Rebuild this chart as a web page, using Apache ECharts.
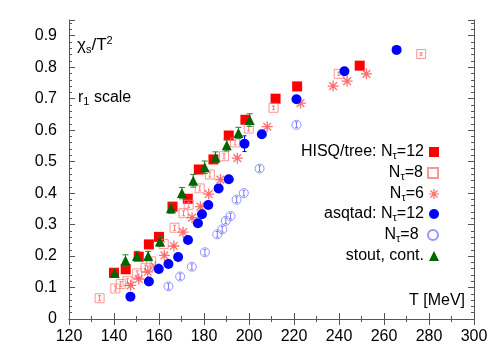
<!DOCTYPE html>
<html>
<head>
<meta charset="utf-8">
<script src="https://cdn.jsdelivr.net/npm/echarts@6/dist/echarts.min.js"></script>
<style>
html,body{margin:0;padding:0;background:#fff;}
#chart{width:504px;height:353px;}
</style>
</head>
<body>
<div id="chart"></div>
<script>
// ---- data ----
const xTicks = [120, 140, 160, 180, 200, 220, 240, 260, 280, 300];
const yTicks = [0, 0.1, 0.2, 0.3, 0.4, 0.5, 0.6, 0.7, 0.8, 0.9];

const hisq12T = [140, 145.2, 151, 155.5, 160, 166, 172.8, 177.7, 184.2, 191, 198.4, 211.8, 221.4, 249.2];
const hisq12V = [0.147, 0.158, 0.198, 0.237, 0.261, 0.357, 0.382, 0.475, 0.507, 0.583, 0.633, 0.700, 0.739, 0.805];

const hisq8T = [133.6, 140.6, 143, 146, 150.3, 154, 156.5, 162.1, 166.9, 170.9, 173.2, 178.1, 182.6, 188.9, 193.8, 199.9, 210.9, 239.9, 276.5];
const hisq8V = [0.066, 0.097, 0.111, 0.120, 0.145, 0.163, 0.183, 0.238, 0.290, 0.336, 0.363, 0.415, 0.459, 0.517, 0.561, 0.605, 0.671, 0.779, 0.842];
const hisq8E = [0.008, 0.008, 0.008, 0.008, 0.008, 0.008, 0.008, 0.008, 0.008, 0.008, 0.008, 0.008, 0.008, 0.008, 0.008, 0.008, 0.006, 0.005, 0.004];

const hisq6T = [147.4, 151, 155, 158.4, 162.4, 166.6, 170.7, 174.7, 178.4, 182.1, 187.3, 194.8, 208.1, 222.9, 237.4, 243.6, 252.2];
const hisq6V = [0.107, 0.127, 0.150, 0.165, 0.202, 0.232, 0.276, 0.322, 0.357, 0.397, 0.443, 0.511, 0.611, 0.686, 0.740, 0.756, 0.779];

const asq12T = [147.3, 155.5, 159.9, 164.2, 168.5, 172.9, 177.3, 179.1, 181.9, 186.5, 191, 198, 205.7, 221.1, 242.4, 265.6];
const asq12V = [0.071, 0.119, 0.159, 0.175, 0.197, 0.251, 0.304, 0.333, 0.362, 0.415, 0.444, 0.557, 0.587, 0.698, 0.787, 0.855];
const asq12E = [0.005, 0.006, 0.012, 0.006, 0.006, 0.006, 0.006, 0.006, 0.006, 0.006, 0.006, 0.025, 0.006, 0.006, 0.006, 0.004];

const asq8T = [164.2, 169.4, 174.6, 180.4, 185.9, 188.1, 189.7, 191.8, 194.5, 197.7, 204.7, 221.1];
const asq8V = [0.104, 0.135, 0.166, 0.212, 0.269, 0.285, 0.312, 0.327, 0.379, 0.400, 0.478, 0.617];
const asq8E = [0.009, 0.009, 0.009, 0.009, 0.009, 0.009, 0.009, 0.009, 0.009, 0.009, 0.009, 0.009];

const stoutT = [140.3, 145.1, 150.2, 155.2, 160.4, 165.3, 170.2, 175.2, 180.3, 185.1, 190.1, 195.3, 200.3];
const stoutV = [0.146, 0.186, 0.200, 0.200, 0.246, 0.352, 0.400, 0.439, 0.482, 0.513, 0.552, 0.591, 0.632];
const stoutE = [0.012, 0.018, 0.015, 0.015, 0.015, 0.016, 0.018, 0.020, 0.020, 0.018, 0.018, 0.018, 0.020];

const names = ['HISQ/tree: N{sub|τ}=12', 'N{sub|τ}=8', 'N{sub|τ}=6', 'asqtad: N{sub|τ}=12', 'N{sub|τ}=8 ', 'stout, cont.'];

// ---- build ----
const pts = (t, v) => t.map((x, i) => [x, v[i]]);
const errPts = (t, v, e) => t.map((x, i) => [x, v[i], e[i]]);

const FONT = '"Liberation Sans", Arial, Helvetica, sans-serif';
const FS = 16;
const asterisk = 'path://M-1,-0.12 L1,-0.12 L1,0.12 L-1,0.12 Z M-0.12,-1 L0.12,-1 L0.12,1 L-0.12,1 Z M-0.615,-0.785 L0.785,0.615 L0.615,0.785 L-0.785,-0.615 Z M0.785,-0.615 L-0.615,0.785 L-0.785,0.615 L0.615,-0.785 Z';

function errSeries(data, color, cap, z) {
  return {
    type: 'custom',
    data: data,
    z: z,
    silent: true,
    encode: { x: 0, y: 1 },
    renderItem: function (params, api) {
      const x = api.value(0), y = api.value(1), e = api.value(2);
      const p1 = api.coord([x, y - e]);
      const p2 = api.coord([x, y + e]);
      const st = { stroke: color, lineWidth: 1 };
      return {
        type: 'group',
        children: [
          { type: 'line', shape: { x1: p1[0], y1: p1[1], x2: p2[0], y2: p2[1] }, style: st },
          { type: 'line', shape: { x1: p1[0] - cap, y1: p1[1], x2: p1[0] + cap, y2: p1[1] }, style: st },
          { type: 'line', shape: { x1: p2[0] - cap, y1: p2[1], x2: p2[0] + cap, y2: p2[1] }, style: st }
        ]
      };
    }
  };
}

const richLegend = {
  sub: { fontSize: 11, fontFamily: FONT, color: '#000', verticalAlign: 'bottom', padding: [7, 0, 0, 0] }
};

const legendCenters = [149, 170, 191, 211, 232, 253];
const legends = names.map((n, i) => ({
  data: [n],
  orient: 'vertical',
  align: 'right',
  right: 60,
  top: legendCenters[i] - 10,
  itemWidth: 10,
  itemHeight: 10,
  itemGap: 0,
  selectedMode: false,
  textStyle: { fontSize: FS, fontFamily: FONT, color: '#000', rich: richLegend }
}));

const axisCommon = {
  axisLine: { lineStyle: { color: '#555', width: 1 } },
  axisTick: { inside: true, length: 6, lineStyle: { color: '#555' } },
  splitLine: { show: false }
};
const minorX = { minorTick: { show: true, splitNumber: 2, length: 3, lineStyle: { color: '#555' } } };
const minorY = { minorTick: { show: true, splitNumber: 5, length: 3, lineStyle: { color: '#555' } } };

const option = {
  animation: false,
  backgroundColor: '#fff',
  grid: { left: 69, right: 30, top: 20, bottom: 34, containLabel: false },
  legend: legends,
  xAxis: [
    Object.assign({
      type: 'value', min: 120, max: 300, interval: 20, position: 'bottom',
      axisLabel: { fontSize: FS, fontFamily: FONT, color: '#000', margin: 10,
        formatter: v => (xTicks.indexOf(v) >= 0 ? String(v) : '') }
    }, axisCommon, minorX),
    Object.assign({
      type: 'value', min: 120, max: 300, interval: 20, position: 'top',
      axisLabel: { show: false }
    }, axisCommon, minorX)
  ],
  yAxis: [
    Object.assign({
      type: 'value', min: 0, max: 0.95, interval: 0.1, position: 'left',
      axisLabel: { fontSize: FS, fontFamily: FONT, color: '#000', margin: 12, showMaxLabel: false,
        formatter: v => { const k = yTicks.find(t => Math.abs(t - v) < 1e-9); return k === undefined ? '' : String(k); } }
    }, axisCommon, minorY),
    Object.assign({
      type: 'value', min: 0, max: 0.95, interval: 0.1, position: 'right',
      axisLabel: { show: false }
    }, axisCommon, minorY)
  ],
  series: [
    { name: names[0], type: 'scatter', data: pts(hisq12T, hisq12V), symbol: 'rect', symbolSize: 10,
      itemStyle: { color: '#ff0000', opacity: 1 }, z: 2 },
    { name: names[1], type: 'scatter', data: pts(hisq8T, hisq8V), symbol: 'rect', symbolSize: 9,
      itemStyle: { color: 'rgba(255,255,255,0)', borderColor: '#ff7a7a', borderWidth: 1 }, z: 3 },
    errSeries(errPts(hisq8T, hisq8V, hisq8E), '#ff7a7a', 1.5, 3),
    { name: names[2], type: 'scatter', data: pts(hisq6T, hisq6V), symbol: asterisk, symbolSize: 11,
      itemStyle: { color: '#ff4a4a', opacity: 0.8 }, z: 4 },
    errSeries(errPts(asq12T, asq12V, asq12E), '#0000ff', 2, 5),
    { name: names[3], type: 'scatter', data: pts(asq12T, asq12V), symbol: 'circle', symbolSize: 10,
      itemStyle: { color: '#0000ff', opacity: 1 }, z: 5 },
    { name: names[4], type: 'scatter', data: pts(asq8T, asq8V), symbol: 'circle', symbolSize: 9,
      itemStyle: { color: 'rgba(255,255,255,0)', borderColor: '#7a7aff', borderWidth: 1 }, z: 6 },
    errSeries(errPts(asq8T, asq8V, asq8E), '#7a7aff', 1.5, 6),
    errSeries(errPts(stoutT, stoutV, stoutE), '#2e7d2e', 3, 7),
    { name: names[5], type: 'scatter', data: pts(stoutT, stoutV), symbol: 'triangle', symbolSize: 10,
      itemStyle: { color: '#006400', opacity: 1 }, z: 7 }
  ],
  graphic: [
    { type: 'text', left: 77, top: 35, z: 10,
      style: { text: '{a|χ}{s|s}{a|/T}{p|2}', fontFamily: FONT,
        rich: {
          a: { fontSize: 17, fontFamily: FONT, color: '#000' },
          s: { fontSize: 11, fontFamily: FONT, color: '#000', verticalAlign: 'bottom', padding: [9, 0, 0, 0] },
          p: { fontSize: 11, fontFamily: FONT, color: '#000', verticalAlign: 'top', padding: [0, 0, 9, 0] }
        } } },
    { type: 'text', left: 78, top: 90, z: 10,
      style: { text: '{a|r}{s|1}{a| scale}', fontFamily: FONT,
        rich: {
          a: { fontSize: FS, fontFamily: FONT, color: '#000' },
          s: { fontSize: 11, fontFamily: FONT, color: '#000', verticalAlign: 'bottom', padding: [8, 0, 0, 0] }
        } } },
    { type: 'text', right: 39, top: 293, z: 10,
      style: { text: 'T [MeV]', fontSize: FS, fontFamily: FONT, fill: '#000' } }
  ]
};

const chart = echarts.init(document.getElementById('chart'), null, { renderer: 'canvas' });
chart.setOption(option);
</script>
</body>
</html>
